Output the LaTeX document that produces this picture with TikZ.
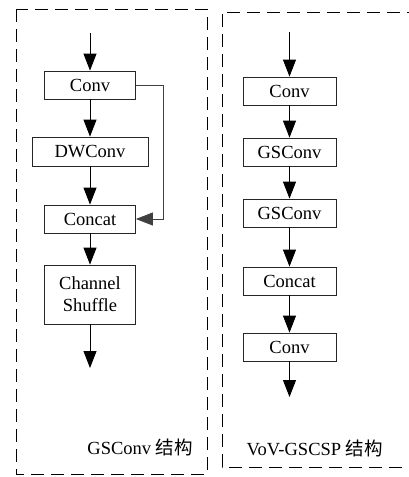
\documentclass[tikz,border=0pt]{standalone}
\usepackage{fontspec}
\setmainfont{Liberation Serif}
\newfontfamily\cjkfont{Noto Sans CJK SC}
\usetikzlibrary{arrows.meta}

\begin{document}
\begin{tikzpicture}[x=1pt,y=-1pt,
  blk/.style={draw=black!85,line width=0.8pt,minimum width=#1,minimum height=28pt,inner sep=0pt,font=\fontsize{18.5}{22}\selectfont},
  blk/.default=93pt,
  flow/.style={line width=0.9pt,-{Triangle[length=17pt,width=13pt]}},
  frame/.style={line width=0.9pt,dash pattern=on 13pt off 7pt},
  tag/.style={anchor=east,inner sep=0pt,font=\fontsize{18.5}{22}\selectfont}]
\useasboundingbox (0,0) rectangle (409,477);
\draw[frame] (16,9) rectangle (207,474);
\draw[frame] (420,12) -- (222,12) -- (222,467) -- (420,467);

% GSConv
\node[blk=91pt] (conv) at (90,85) {Conv};
\node[blk=116pt,minimum height=29pt] (dwconv) at (90,151.5) {DWConv};
\node[blk=91pt] (concat) at (90,219) {Concat};
\node[blk=91pt,minimum height=59pt,align=center] (shuffle) at (90,294.5) {Channel\\Shuffle};
\coordinate (gin) at (90,33);
\coordinate (gout) at (90,368);
\foreach \a/\b in {gin/conv,conv/dwconv,dwconv/concat,concat/shuffle,shuffle/gout} {
   \draw[flow] (\a) -- (\b);
}
\draw[flow,draw=black!75] (conv.east) -- ++(28,0) |- (concat.east);
\node[tag] (glabel) at (193,447) {GSConv {\cjkfont 结构}};

% VoV-GSCSP
\node[blk] (vconv) at (289.5,91) {Conv};
\node[blk] (gsa) at (289.5,152) {GSConv};
\node[blk] (gsb) at (289.5,213) {GSConv};
\node[blk] (vconcat) at (289.5,281) {Concat};
\node[blk] (vconvb) at (289.5,347) {Conv};
\coordinate (vin) at (289.5,32);
\coordinate (vout) at (289.5,397);
\foreach \a/\b in {vin/vconv,vconv/gsa,gsa/gsb,gsb/vconcat,vconcat/vconvb,vconvb/vout} {
   \draw[flow] (\a) -- (\b);
}
\node[tag] (vlabel) at (383,448) {VoV-GSCSP {\cjkfont 结构}};
\end{tikzpicture}
\end{document}
